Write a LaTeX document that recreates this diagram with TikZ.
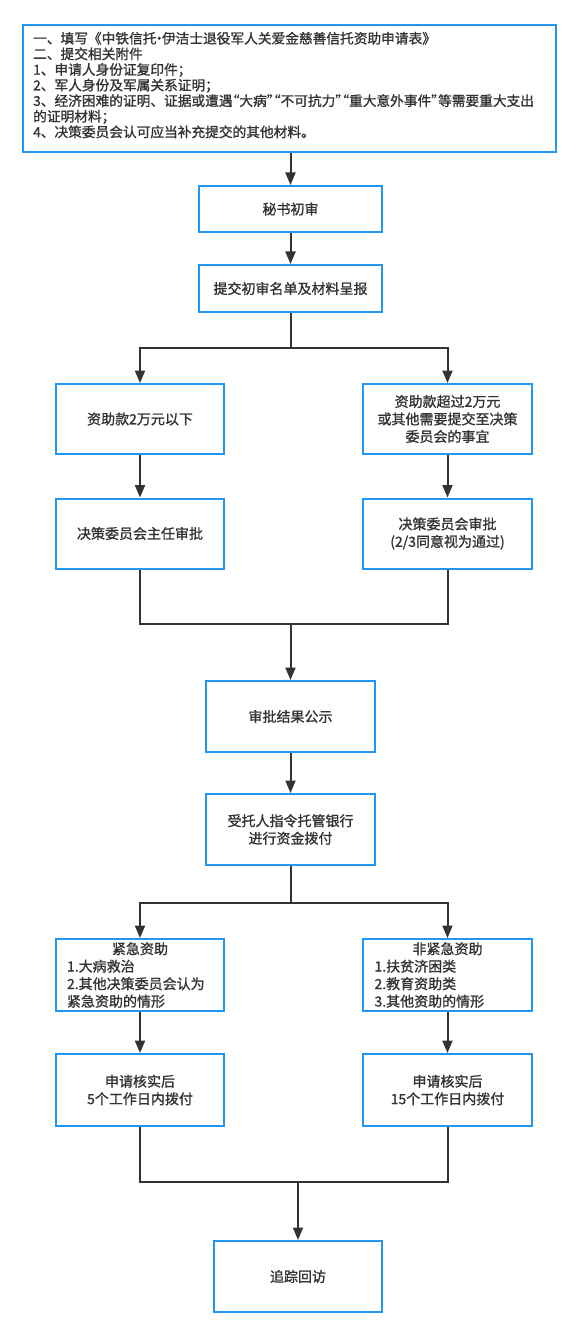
\documentclass[tikz,border=0pt]{standalone}
\usepackage{fontspec}
\setmainfont{Noto Sans CJK SC}[FakeBold=1.2]
\usetikzlibrary{arrows.meta}
\definecolor{bluebd}{RGB}{33,150,243}
\definecolor{txt}{RGB}{51,51,51}
\definecolor{lnc}{RGB}{51,51,51}
\newcommand{\myLq}{\makebox[0.5em][r]{“}}
\newcommand{\myRq}{\makebox[0.5em][l]{”}}
\newcommand{\myDot}{\makebox[0.4em][c]{·}}
\begin{document}
\begin{tikzpicture}[x=1pt,y=-1pt,
  box/.style={draw=bluebd, line width=2pt, fill=white, text=txt,
    font=\fontsize{14}{17.5}\selectfont, align=center, inner sep=0pt,
    minimum width=168pt, minimum height=70pt},
  listbox/.style={box, text width=146pt, align=left},
  arr/.style={draw=lnc, line width=2pt, -{Triangle[length=12.5pt,width=10pt]}},
  lnk/.style={draw=lnc, line width=2pt}]
\useasboundingbox (0,0) rectangle (582,1337);

\node[box, minimum width=533pt, minimum height=127pt] (b1) at (289.5,88.5) {};
\node[text=txt, inner sep=0pt, text width=515pt, align=left, anchor=base west,
  font=\fontsize{13.7}{15.6}\selectfont] (b1t) at (33,43.5) {%
一、填写《中铁信托\myDot 伊洁士退役军人关爱金慈善信托资助申请表》\\
二、提交相关附件\\
1、申请人身份证复印件；\\
2、军人身份及军属关系证明；\\
3、经济困难的证明、证据或遭遇\myLq 大病\myRq\myLq 不可抗力\myRq\myLq 重大意外事件\myRq 等需要重大支出\\
的证明材料；\\
4、决策委员会认可应当补充提交的其他材料。};

\node[box, minimum width=183pt, minimum height=46pt] (b2) at (290.5,209) {秘书初审};
\node[box, minimum width=183pt, minimum height=47pt] (b3) at (290.5,288.5) {提交初审名单及材料呈报};

\node[box] (b4) at (140,419) {资助款2万元以下};
\node[box, minimum width=169pt] (b5) at (447.5,419) {资助款超过2万元\\或其他需要提交至决策\\委员会的事宜};
\node[box] (b6) at (140,533.5) {决策委员会主任审批};
\node[box, minimum width=169pt] (b7) at (447.5,533.5) {决策委员会审批\\(2/3同意视为通过)};

\node[box, minimum width=169pt, minimum height=71pt] (b8) at (290.5,716.5) {审批结果公示};
\node[box, minimum width=169pt, minimum height=71pt] (b9) at (290.5,829.5) {受托人指令托管银行\\进行资金拨付};

\node[listbox, minimum height=72pt] (b10) at (140,975) {%
{\centering 紧急资助\par}
1.大病救治\\
2.其他决策委员会认为\\
紧急资助的情形};
\node[listbox, minimum width=169pt, minimum height=72pt] (b11) at (447.5,975) {%
{\centering 非紧急资助\par}
1.扶贫济困类\\
2.教育资助类\\
3.其他资助的情形};

\node[box, minimum height=72pt] (b12) at (140,1090) {申请核实后\\5个工作日内拨付};
\node[box, minimum width=169pt, minimum height=72pt] (b13) at (447.5,1090) {申请核实后\\15个工作日内拨付};

\node[box, minimum height=71pt] (b14) at (298,1276.5) {追踪回访};

\coordinate (m1) at (290.5,624);
\coordinate (m2) at (298,1182);

\draw[arr] (b2.north |- b1.south) -- (b2.north);
\draw[arr] (b2.south) -- (b3.north);
\draw[arr] (b3.south) -- ++(0,35) -| (b4.north);
\draw[arr] (b3.south) -- ++(0,35) -| (b5.north);
\draw[arr] (b4.south) -- (b6.north);
\draw[arr] (b5.south) -- (b7.north);
\draw[lnk] (b6.south) |- (m1) -| (b7.south);
\draw[arr] (m1) -- (b8.north);
\draw[arr] (b8.south) -- (b9.north);
\draw[arr] (b9.south) -- ++(0,37) -| (b10.north);
\draw[arr] (b9.south) -- ++(0,37) -| (b11.north);
\draw[arr] (b10.south) -- (b12.north);
\draw[arr] (b11.south) -- (b13.north);
\draw[lnk] (b12.south) |- (m2) -| (b13.south);
\draw[arr] (m2) -- (b14.north);
\end{tikzpicture}
\end{document}
